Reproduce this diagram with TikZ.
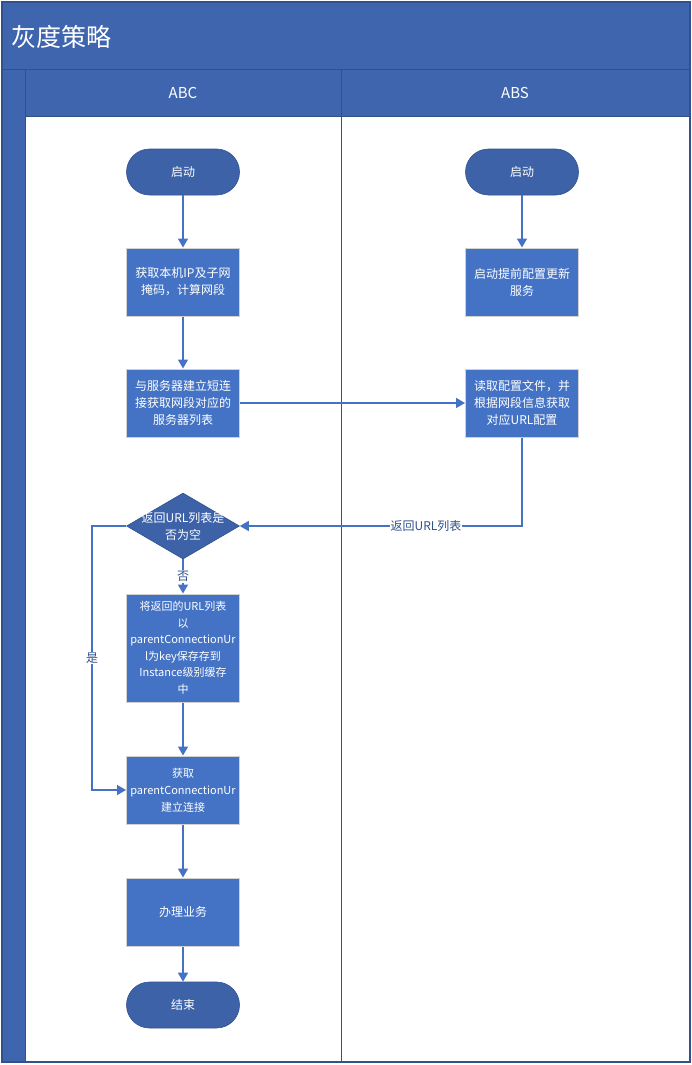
\documentclass[tikz,border=0pt]{standalone}
\usepackage{fontspec}
\setmainfont{Noto Sans CJK SC}
\usetikzlibrary{arrows.meta,shapes.geometric}
\definecolor{band}{HTML}{3F65AF}
\definecolor{boxblue}{HTML}{4472C4}
\definecolor{darkblue}{HTML}{3D62A8}
\definecolor{laneedge}{HTML}{2F528F}
\tikzset{
  proc/.style={draw=gray!35, line width=1pt, fill=boxblue, text=white, minimum width=113pt, minimum height=68pt, inner sep=0pt, align=center, font=\fontsize{12}{17}\selectfont},
  term/.style={draw=laneedge, line width=.6pt, fill=darkblue, text=white, rounded corners=23pt, minimum width=113pt, minimum height=46pt, inner sep=0pt, font=\fontsize{12}{17}\selectfont},
  dec/.style={shape=diamond, draw=laneedge, line width=.6pt, fill=darkblue, minimum width=113pt, minimum height=66pt, inner sep=0pt},
  flow/.style={draw=boxblue, line width=1.5pt, -{Triangle[length=9pt,width=10pt]}},
  flowlabel/.style={fill=white, text=laneedge, inner sep=1pt, font=\fontsize{12}{14}\selectfont},
  hdr/.style={text=white, font=\fontsize{15}{15}\selectfont}
}
\begin{document}
\begin{tikzpicture}[x=1pt, y=-1pt]
\useasboundingbox (0,0) rectangle (692,1065);
\fill[white] (0,0) rectangle (692,1065);
\fill[band] (2,2) rectangle (690,116);
\fill[band] (2,70) rectangle (25,1062);
\draw[laneedge, line width=1pt] (2,70) -- (690,70) (25,116) -- (690,116) (25,70) -- (25,1062) (341,70) -- (341,1062);
\draw[laneedge, line width=1.5pt] (2,2) rectangle (690,1062);
\node[anchor=west, text=white, font=\fontsize{25}{25}\selectfont] (title) at (8,37) {灰度策略};
\node[hdr] (abc) at (183,93) {ABC};
\node[hdr] (abs) at (515,93) {ABS};

\node[term] (start1) at (183,172) {启动};
\node[proc] (getip) at (183,282) {获取本机IP及子网\\掩码，计算网段};
\node[proc] (conn) at (183,403) {与服务器建立短连\\接获取网段对应的\\服务器列表};
\node[dec] (check) at (183,526) {};
\node[text=white, align=center, font=\fontsize{12}{17}\selectfont] (checktext) at (check) {返回URL列表是\\否为空};
\node[proc, minimum height=108pt, font=\fontsize{11}{16.5}\selectfont] (save) at (183,648) {将返回的URL列表\\以\\parentConnectionUr\\l为key保存存到\\Instance级别缓存\\中};
\node[proc, font=\fontsize{11}{17}\selectfont] (getconn) at (183,790) {获取\\parentConnectionUr\\建立连接};
\node[proc] (biz) at (183,912) {办理业务};
\node[term] (end1) at (183,1005) {结束};

\node[term] (start2) at (522,172) {启动};
\node[proc] (svc) at (522,282) {启动提前配置更新\\服务};
\node[proc] (read) at (522,403) {读取配置文件，并\\根据网段信息获取\\对应URL配置};

\draw[flow] (start1) -- (getip);
\draw[flow] (getip) -- (conn);
\draw[flow] (conn) -- (read);
\draw[flow] (start2) -- (svc);
\draw[flow] (read.south) |- (check.east) node[flowlabel, pos=.67] {返回URL列表};
\draw[flow] (check.south) -- (save.north) node[flowlabel, midway] {否};
\draw[flow] (check.west) -- ++(-34,0) |- (getconn.west) node[flowlabel, pos=.25] {是};
\draw[flow] (save) -- (getconn);
\draw[flow] (getconn) -- (biz);
\draw[flow] (biz) -- (end1);
\end{tikzpicture}
\end{document}
